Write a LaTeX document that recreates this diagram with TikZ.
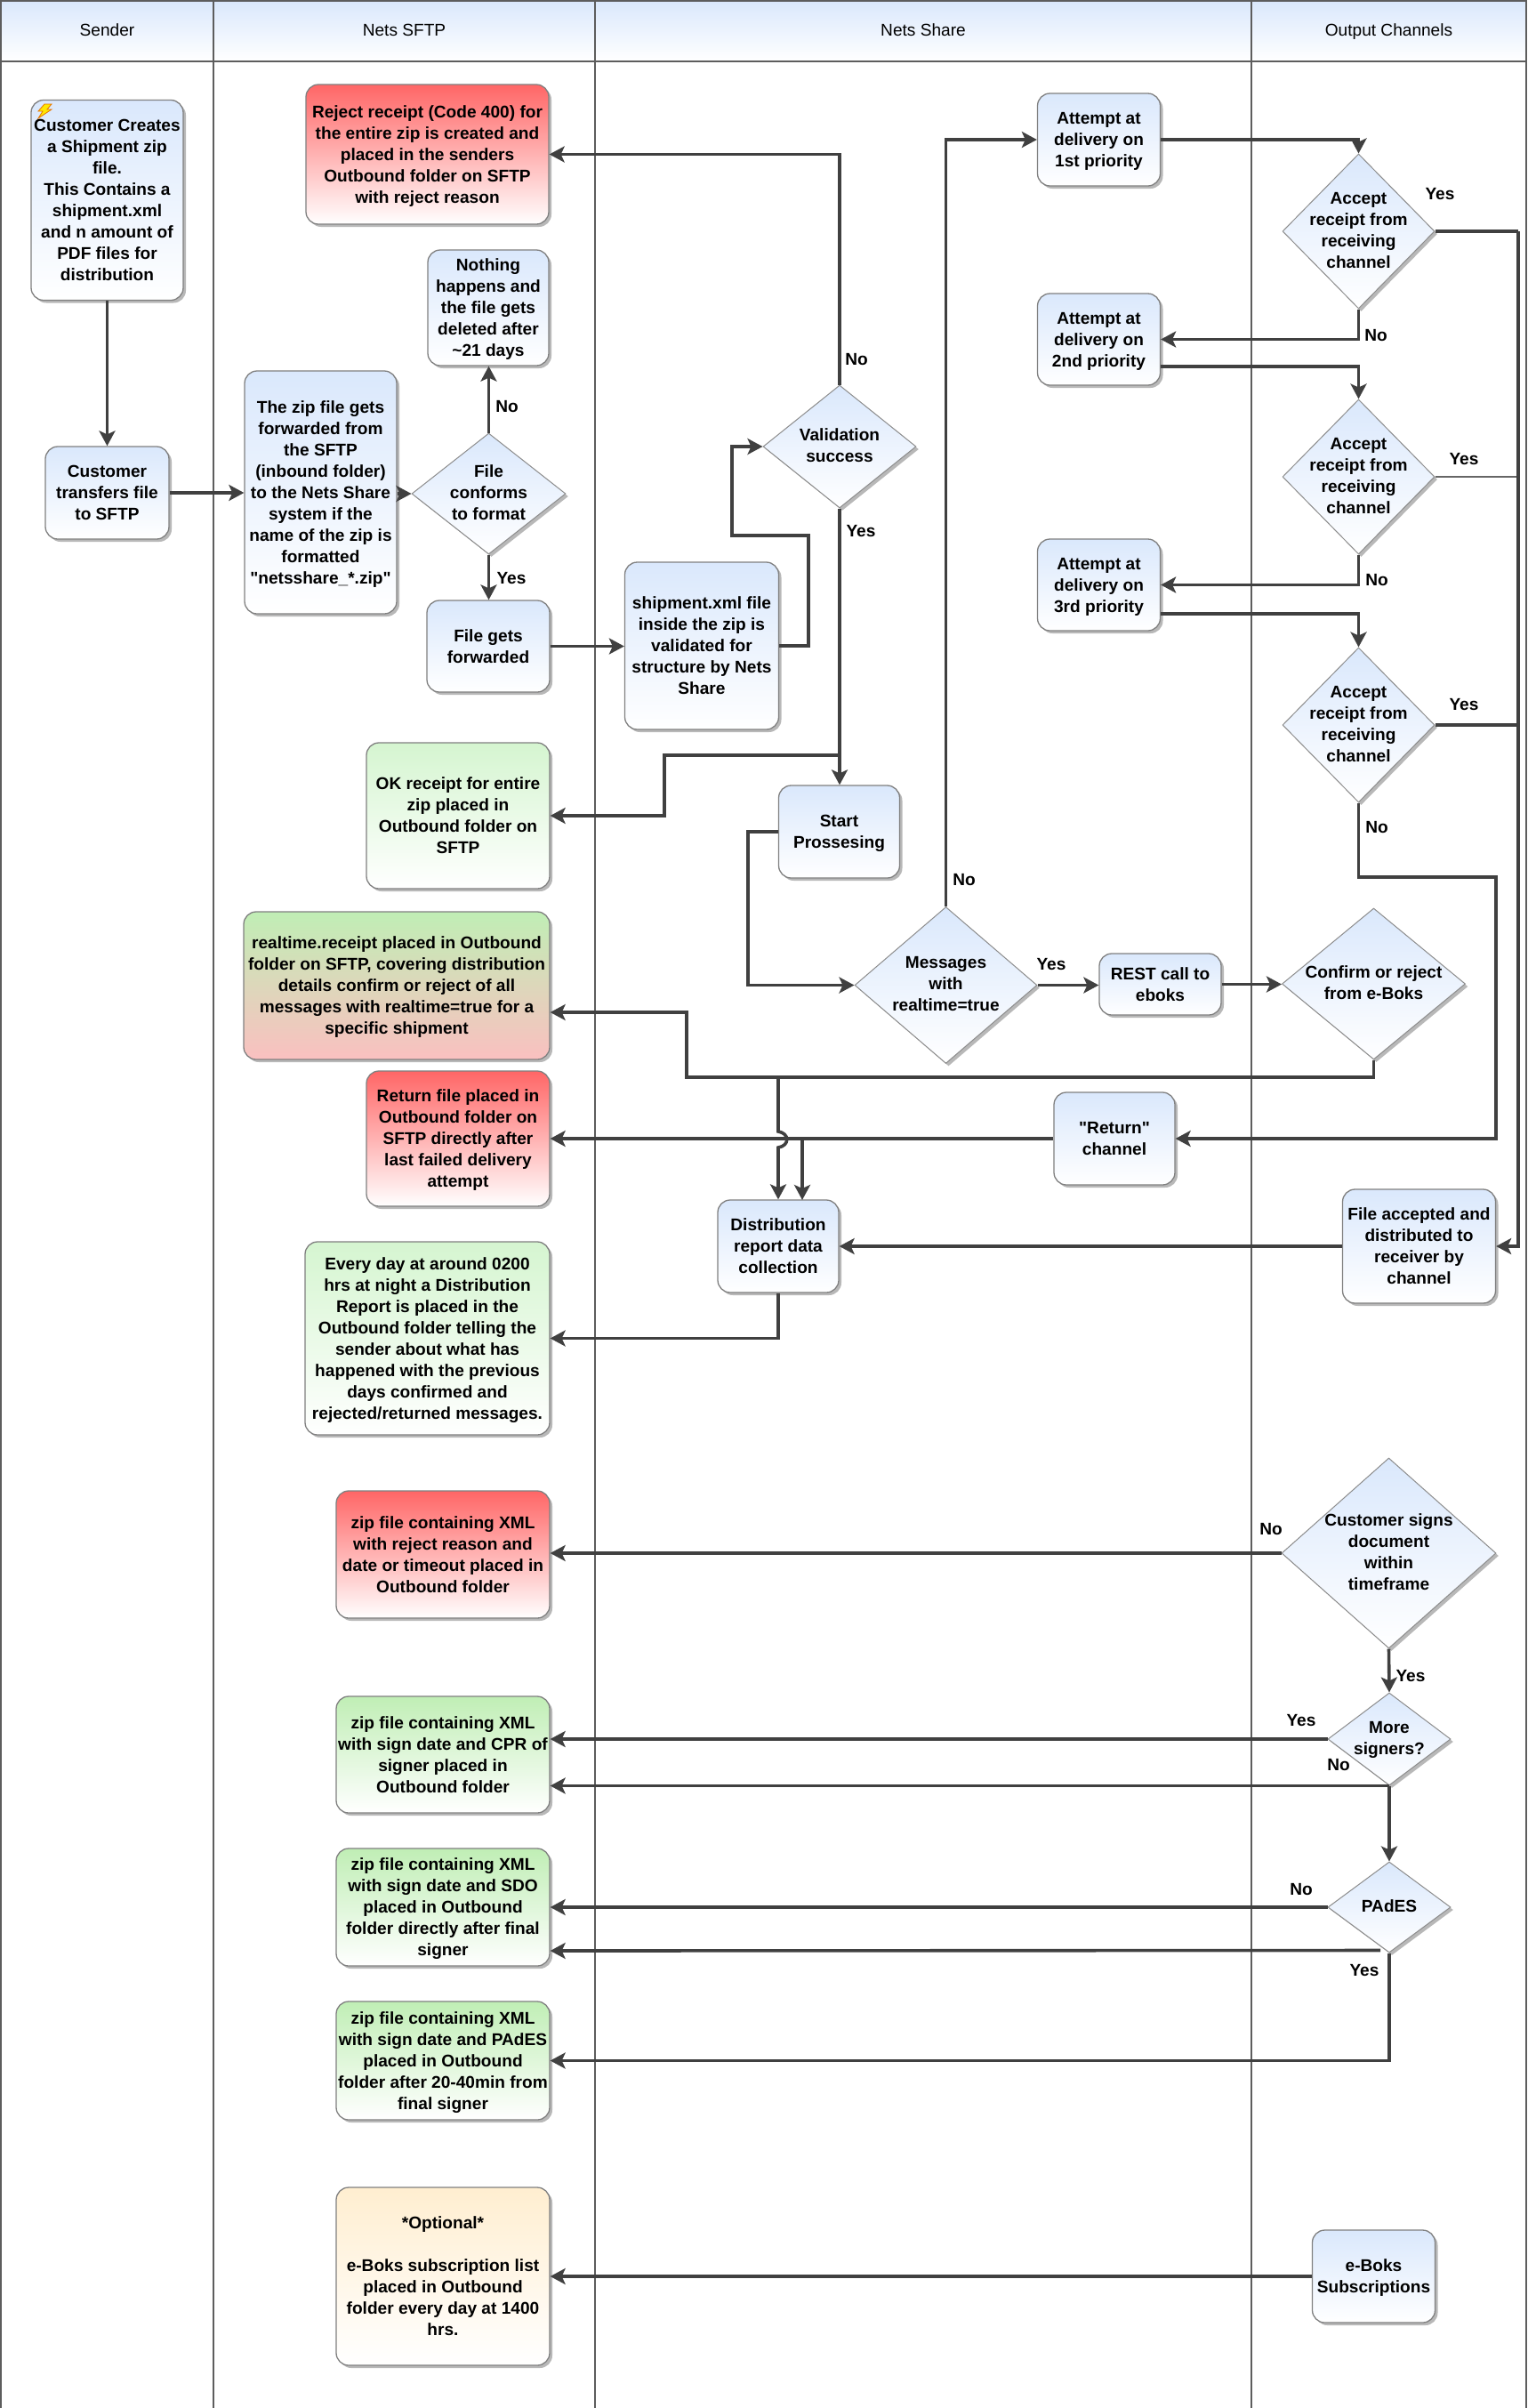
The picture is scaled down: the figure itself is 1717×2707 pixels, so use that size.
\documentclass[tikz,border=0pt]{standalone}
\usepackage{fontspec}
\setmainfont[Ligatures=TeXOff]{Liberation Sans}
\usepackage{tikz}
\usetikzlibrary{shapes.geometric,shadows,arrows.meta,calc}

\definecolor{flowblue}{HTML}{DAE8FC}
\definecolor{flowred}{HTML}{FF6666}
\definecolor{flowgreen}{HTML}{D5F5D0}
\definecolor{flowlime}{HTML}{C0EEB5}
\definecolor{flowpink}{HTML}{FAC0C0}
\definecolor{flowsand}{HTML}{FFEED0}
\definecolor{flowline}{HTML}{404040}

\newcommand{\boxfont}{\fontsize{19.1}{24}\selectfont\bfseries}
\newcommand{\headfont}{\fontsize{19.1}{24}\selectfont}
% diamonds keep their given size whatever the text
\newcommand{\dtext}[1]{\makebox[0pt]{\raisebox{-11.5pt}{\smash{\begin{tabular}{@{}c@{}}#1\end{tabular}}}}}

\tikzset{
  flowshadow/.style={drop shadow={opacity=1,shadow xshift=3pt,shadow yshift=-3pt,fill=black!28}},
  flowbox/.style={rectangle,rounded corners=14pt,draw=black!50,line width=1.3pt,flowshadow,
    align=center,inner sep=0pt,font=\boxfont,text=black,text depth=-2pt,top color=flowblue,bottom color=white},
  flowdec/.style={diamond,draw=black!45,line width=1pt,flowshadow,inner sep=0pt,
    font=\boxfont,text=black,top color=flowblue,bottom color=white},
  redbox/.style={flowbox,top color=flowred},
  greenbox/.style={flowbox,top color=flowgreen},
  limebox/.style={flowbox,top color=flowlime},
  lanehead/.style={rectangle,draw=flowline!85,line width=1.8pt,inner sep=0pt,font=\headfont,
    minimum height=68pt,text height=14pt,text depth=4pt,top color=flowblue,bottom color=white},
  laneline/.style={flowline!85,line width=1.8pt},
  link/.style={flowline,line width=3.6pt,-{Stealth[length=17pt,width=18pt,inset=4pt]}},
  plainlink/.style={flowline,line width=3.6pt},
  thinlink/.style={flowline!80,line width=1.4pt},
  edgelbl/.style={font=\boxfont,inner sep=0pt}
}

\begin{document}
\begin{tikzpicture}[x=1pt,y=-1pt]
  \useasboundingbox (0,0) rectangle (1717,2707);

  % lanes
  \foreach \x in {1,240,669,1407,1716}{\draw[laneline] (\x,1) -- (\x,2707);}
  \node[lanehead,minimum width=239pt] (hsender) at (120.5,35) {Sender};
  \node[lanehead,minimum width=429pt] (hsftp) at (454.5,35) {Nets SFTP};
  \node[lanehead,minimum width=738pt] (hshare) at (1038,35) {Nets Share};
  \node[lanehead,minimum width=309pt] (hout) at (1561.5,35) {Output Channels};

  % sender
  \node[flowbox,minimum width=171pt,minimum height=225pt] (create) at (120.5,225) {Customer Creates\\a Shipment zip\\file.\\This Contains a\\shipment.xml\\and n amount of\\PDF files for\\distribution};
  \fill[yellow!90!orange,draw=orange!90!black,line width=0.8pt] (50,117) -- (58,117) -- (53,123) -- (58,123) -- (43,133) -- (48,125) -- (43,125) -- cycle;
  \node[flowbox,minimum width=139pt,minimum height=104pt] (transfer) at (120.5,554) {Customer\\transfers file\\to SFTP};

  % sftp
  \node[redbox,minimum width=273pt,minimum height=157pt] (reject) at (480.5,173.5) {Reject receipt (Code 400) for\\the entire zip is created and\\placed in the senders\\Outbound folder on SFTP\\with reject reason};
  \node[flowbox,minimum width=136pt,minimum height=130pt] (nothing) at (549,346) {Nothing\\happens and\\the file gets\\deleted after\\\textasciitilde21 days};
  \node[flowbox,minimum width=171pt,minimum height=273pt] (zipfwd) at (360.5,553.5) {The zip file gets\\forwarded from\\the SFTP\\(inbound folder)\\to the Nets Share\\system if the\\name of the zip is\\formatted\\"netsshare\_*.zip"};
  \node[flowdec,minimum width=173pt,minimum height=136pt] (conforms) at (549.5,555) {\dtext{File\\conforms\\to format}};
  \node[flowbox,minimum width=138pt,minimum height=103pt] (fwd) at (549,726.5) {File gets\\forwarded};
  \node[greenbox,minimum width=206pt,minimum height=164pt] (okrcpt) at (515,917) {OK receipt for entire\\zip placed in\\Outbound folder on\\SFTP};
  \node[limebox,bottom color=flowpink,minimum width=344pt,minimum height=166pt] (realtime) at (446,1108) {realtime.receipt placed in Outbound\\folder on SFTP, covering distribution\\details confirm or reject of all\\messages with realtime=true for a\\specific shipment};
  \node[redbox,minimum width=206pt,minimum height=152pt] (returnfile) at (515,1280) {Return file placed in\\Outbound folder on\\SFTP directly after\\last failed delivery\\attempt};
  \node[greenbox,minimum width=275pt,minimum height=217pt] (everyday) at (480.5,1504.5) {Every day at around 0200\\hrs at night a Distribution\\Report is placed in the\\Outbound folder telling the\\sender about what has\\happened with the previous\\days confirmed and\\rejected/returned messages.};
  \node[redbox,minimum width=240pt,minimum height=143pt] (ziprej) at (498,1747.5) {zip file containing XML\\with reject reason and\\date or timeout placed in\\Outbound folder};
  \node[limebox,minimum width=240pt,minimum height=131pt] (zipcpr) at (498,1972.5) {zip file containing XML\\with sign date and CPR of\\signer placed in\\Outbound folder};
  \node[limebox,minimum width=240pt,minimum height=132pt] (zipsdo) at (498,2144) {zip file containing XML\\with sign date and SDO\\placed in Outbound\\folder directly after final\\signer};
  \node[limebox,minimum width=240pt,minimum height=133pt] (zippades) at (498,2316.5) {zip file containing XML\\with sign date and PAdES\\placed in Outbound\\folder after 20-40min from\\final signer};
  \node[flowbox,top color=flowsand,minimum width=240pt,minimum height=200pt] (optional) at (498,2559) {*Optional*\\[24pt]e-Boks subscription list\\placed in Outbound\\folder every day at 1400\\hrs.};

  % share
  \node[flowbox,minimum width=173pt,minimum height=188pt] (shipxml) at (789,726) {shipment.xml file\\inside the zip is\\validated for\\structure by Nets\\Share};
  \node[flowdec,minimum width=172pt,minimum height=138pt] (validation) at (944,502) {\dtext{Validation\\success}};
  \node[flowbox,minimum width=136pt,minimum height=104pt] (start) at (943.5,935) {Start\\Prossesing};
  \node[flowdec,minimum width=205pt,minimum height=176pt] (messages) at (1063.5,1107.5) {\dtext{Messages\\with\\realtime=true}};
  \node[flowbox,minimum width=137pt,minimum height=69pt] (rest) at (1304.5,1106.5) {REST call to\\eboks};
  \node[flowbox,minimum width=138pt,minimum height=104pt] (att1) at (1235.5,157) {Attempt at\\delivery on\\1st priority};
  \node[flowbox,minimum width=138pt,minimum height=103pt] (att2) at (1235.5,381.5) {Attempt at\\delivery on\\2nd priority};
  \node[flowbox,minimum width=138pt,minimum height=103pt] (att3) at (1235.5,657.5) {Attempt at\\delivery on\\3rd priority};
  \node[flowbox,minimum width=136pt,minimum height=104pt] (retchan) at (1253,1280) {"Return"\\channel};
  \node[flowbox,minimum width=136pt,minimum height=104pt] (dist) at (875,1401) {Distribution\\report data\\collection};

  % output
  \foreach \name/\ypos in {accept1/260,accept2/536,accept3/815}{
    \node[flowdec,minimum width=171pt,minimum height=174pt] (\name) at (1527.5,\ypos) {\dtext{Accept\\receipt from\\receiving\\channel}};
  }
  \node[flowdec,minimum width=206pt,minimum height=170pt] (confirm) at (1544.5,1106) {\dtext{Confirm or reject\\from e-Boks}};
  \node[flowbox,minimum width=172pt,minimum height=128pt] (accepted) at (1595.5,1401) {File accepted and\\distributed to\\receiver by\\channel};
  \node[flowdec,minimum width=241pt,minimum height=214pt] (signs) at (1561.5,1746) {\dtext{Customer signs\\document\\within\\timeframe}};
  \node[flowdec,minimum width=138pt,minimum height=104pt] (more) at (1562,1955) {\dtext{More\\signers?}};
  \node[flowdec,minimum width=138pt,minimum height=102pt] (pades) at (1562,2144) {\dtext{PAdES}};
  \node[flowbox,minimum width=138pt,minimum height=104pt] (subs) at (1544.5,2559) {e-Boks\\Subscriptions};

  % turning points
  \coordinate (trunk) at (1707,260);
  \coordinate (bus) at (875,1211);

  % connectors
  \draw[link] (create) -- (transfer);
  \draw[link] (transfer) -- (transfer -| zipfwd.west);
  \draw[link] (zipfwd.east |- conforms) -- (conforms.west);
  \draw[link] (conforms) -- (conforms |- nothing.south);
  \draw[link] (conforms) -- (conforms |- fwd.north);
  \draw[link] (fwd) -- (fwd -| shipxml.west);
  \draw[link] (shipxml.east) -| (909,602) -| (823,502) -- (validation.west);
  \draw[link] (validation.north) |- (reject.east);
  \draw[link] (validation.south) -- (validation |- start.north);
  \draw[link] (944,849) -| (747,917) -- (okrcpt.east);
  \draw[link] (start.west) -| (841,1107.5) -- (messages.west);
  \draw[link] (messages.north) |- (att1.west);
  \draw[link] (messages.east) -- (messages -| rest.west);
  \draw[link] (rest) -- (rest -| confirm.west);
  \draw[link] (att1.east) -| (accept1.north);
  \draw[link] (accept1.south) |- (att2.east);
  \draw[link] ($(att2.east)+(0,30.5)$) -| (accept2.north);
  \draw[link] (accept2.south) |- (att3.east);
  \draw[link] ($(att3.east)+(0,32.5)$) -| (accept3.north);
  \draw[link] (accept3.south) |- (1682,986) |- (retchan.east);
  \draw[plainlink] (accept1.east) -- (trunk);
  \draw[thinlink] (accept2.east) -- (accept2 -| trunk);
  \draw[plainlink] (accept3.east) -- (accept3 -| trunk);
  \draw[link] (trunk) |- (accepted.east);
  \draw[link] (confirm.south) |- (772,1211) |- ($(realtime.east)+(0,30)$);
  \draw[link] (retchan.west) -- (returnfile.east);
  \draw[link] (bus) -- (875,1272) .. controls (888,1274) and (888,1288) .. (875,1290) -- (dist.north);
  \draw[link] (902,1281) -- (902,1349);
  \draw[link] (accepted.west) -- (dist.east);
  \draw[link] (dist.south) |- (everyday.east);
  \draw[link] (signs.west) -- (signs -| ziprej.east);
  \draw[link] (signs.south) -- (more.north);
  \draw[link] (more.west) -- (more -| zipcpr.east);
  \draw[link] (more.south) -- (pades.north);
  \draw[link] (more.south) -- (more.south -| zipcpr.east);
  \draw[link] (pades.west) -- (pades -| zipsdo.east);
  \draw[link] ($(pades.south)+(-10,-3)$) -- ($(zipsdo.east)+(0,49)$);
  \draw[link] (pades.south) |- (zippades.east);
  \draw[link] (subs.west) -- (subs -| optional.east);

  % yes and no
  \foreach \lname/\lpos/\ltext in {
    lb1/{(963,404)}/No, lb2/{(968,597)}/Yes, lb3/{(570,457)}/No, lb4/{(575,650)}/Yes,
    lb5/{(1084,989)}/No, lb6/{(1182,1084)}/Yes, lb7/{(1619,218)}/Yes, lb8/{(1547,377)}/No,
    lb9/{(1646,516)}/Yes, lb10/{(1548,652)}/No, lb11/{(1646,792)}/Yes, lb12/{(1548,930)}/No,
    lb13/{(1429,1719)}/No, lb14/{(1586,1884)}/Yes, lb15/{(1463,1934)}/Yes, lb16/{(1505,1984)}/No,
    lb17/{(1463,2124)}/No, lb18/{(1534,2215)}/Yes}{
    \node[edgelbl] (\lname) at \lpos {\ltext};
  }
\end{tikzpicture}
\end{document}
